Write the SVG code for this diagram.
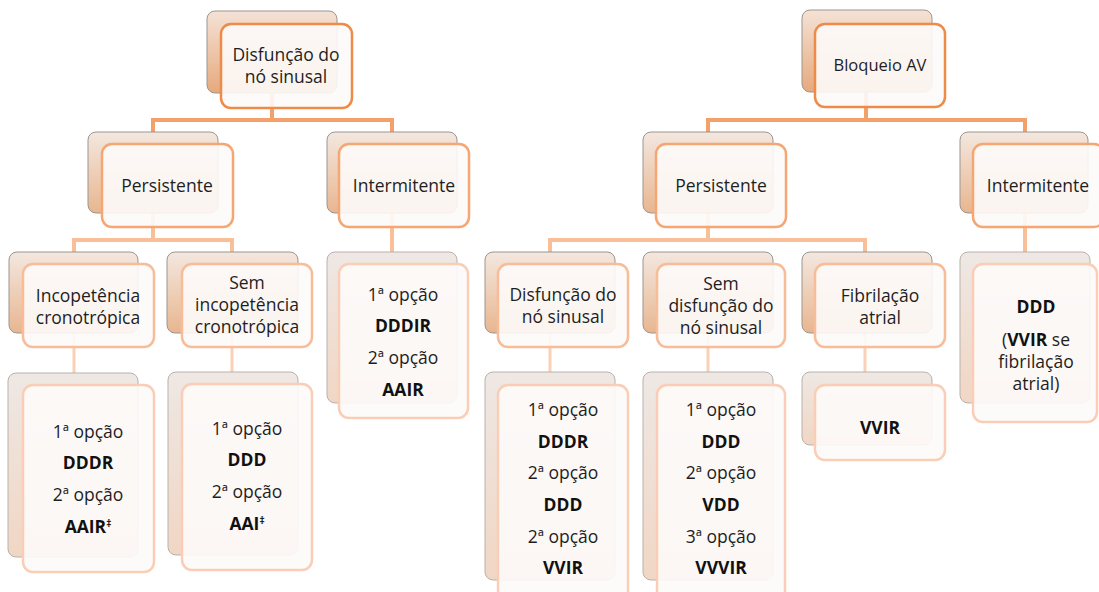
<svg xmlns="http://www.w3.org/2000/svg" width="1099" height="592" viewBox="0 0 1099 592">
<defs>
<linearGradient id="gTop" x1="0" y1="0" x2="0" y2="1"><stop offset="0" stop-color="#F4E2D6"/><stop offset="1" stop-color="#E6A97D"/></linearGradient>
<linearGradient id="gMid" x1="0" y1="0" x2="0" y2="1"><stop offset="0" stop-color="#F3E7DF"/><stop offset="1" stop-color="#E8B690"/></linearGradient>
<linearGradient id="gLeaf" x1="0" y1="0" x2="0" y2="1"><stop offset="0" stop-color="#EEE8E4"/><stop offset="1" stop-color="#F1D6C4"/></linearGradient>
<style>
.bk{stroke:#9C9590;stroke-width:1}
.b1{fill:url(#gTop)}
.b2{fill:url(#gMid)}
.b4{fill:url(#gLeaf);stroke:#B9B1AC}
.fr{fill:#FDFBFA;fill-opacity:0.9;stroke-width:2.5}
.f1{stroke:#EE8B48}
.f2{stroke:#F5A673}
.f3{stroke:#F8BC98}
.f4{stroke:#F9CDB6}
.c{fill:none;stroke-linejoin:miter}
.c1{stroke:#F4A06A;stroke-width:4}
.c2{stroke:#F9BF98;stroke-width:4}
.c3{stroke:#FAD0B7;stroke-width:3}
text{font-family:"Open Sans","Noto Sans","DejaVu Sans",sans-serif;font-size:17.5px;fill:#1E1E1E;text-anchor:middle}
.bd{font-weight:bold;fill:#111}
.sm{font-size:16.5px}
</style>
</defs>
<g id="connectors">
<path class="c c1" d="M272 93V120M153 132V120H392V132"/>
<path class="c c1" d="M866 92V120M708 132V120H1025V132"/>
<path class="c c2" d="M153 213V240M74 252V240H232V252M392 213V252"/>
<path class="c c2" d="M708 213V240M550 252V240H865V252M1025 213V252"/>
<path class="c c3" d="M74 333V373M232 333V372M550 333V372M708 333V372M865 333V372"/>
</g>
<g id="n1">
<rect class="bk b1" x="207" y="11" width="130" height="82" rx="8"/>
<rect class="fr f1" x="221" y="24" width="131" height="84" rx="10"/>
<text x="286" y="61">Disfunção do</text><text x="286" y="83">nó sinusal</text>
</g>
<g id="n2">
<rect class="bk b2" x="88" y="132" width="130" height="81" rx="8"/>
<rect class="fr f2" x="102" y="144" width="131" height="83" rx="10"/>
<text x="167" y="192">Persistente</text>
</g>
<g id="n3">
<rect class="bk b2" x="327" y="132" width="130" height="81" rx="8"/>
<rect class="fr f2" x="339" y="144" width="130" height="83" rx="10"/>
<text x="404" y="192">Intermitente</text>
</g>
<g id="n4">
<rect class="bk b2" x="9" y="252" width="129" height="81" rx="8"/>
<rect class="fr f3" x="23" y="264" width="131" height="83" rx="10"/>
<text x="88" y="302">Incopetência</text><text x="88" y="324">cronotrópica</text>
</g>
<g id="n5">
<rect class="bk b2" x="167" y="252" width="131" height="81" rx="8"/>
<rect class="fr f3" x="182" y="264" width="130" height="83" rx="10"/>
<text x="247" y="289">Sem</text><text x="247" y="311">incopetência</text><text x="247" y="333">cronotrópica</text>
</g>
<g id="n6">
<rect class="bk b4" x="8" y="373" width="130" height="184" rx="8"/>
<rect class="fr f4" x="23" y="385" width="131" height="187" rx="10"/>
<text x="88" y="438">1ª opção</text><text class="bd" x="88" y="469">DDDR</text>
<text x="88" y="501">2ª opção</text><text class="bd" x="88" y="533">AAIR<tspan font-size="10" dy="-6">‡</tspan></text>
</g>
<g id="n7">
<rect class="bk b4" x="168" y="372" width="130" height="183" rx="8"/>
<rect class="fr f4" x="182" y="384" width="130" height="186" rx="10"/>
<text x="247" y="435">1ª opção</text><text class="bd" x="247" y="466">DDD</text>
<text x="247" y="498">2ª opção</text><text class="bd" x="247" y="530">AAI<tspan font-size="10" dy="-6">‡</tspan></text>
</g>
<g id="n8">
<rect class="bk b4" x="327" y="252" width="130" height="151" rx="8"/>
<rect class="fr f4" x="339" y="264" width="129" height="154" rx="10"/>
<text x="403" y="301">1ª opção</text><text class="bd" x="403" y="332">DDDIR</text>
<text x="403" y="364">2ª opção</text><text class="bd" x="403" y="396">AAIR</text>
</g>
<g id="n9">
<rect class="bk b1" x="802" y="10" width="130" height="82" rx="8"/>
<rect class="fr f1" x="815" y="24" width="130" height="83" rx="10"/>
<text class="sm" x="880" y="71">Bloqueio AV</text>
</g>
<g id="n10">
<rect class="bk b2" x="643" y="132" width="130" height="81" rx="8"/>
<rect class="fr f2" x="656" y="144" width="130" height="83" rx="10"/>
<text x="721" y="192">Persistente</text>
</g>
<g id="n11">
<rect class="bk b2" x="960" y="132" width="128" height="81" rx="8"/>
<rect class="fr f2" x="973" y="144" width="131" height="83" rx="10"/>
<text x="1038" y="192">Intermitente</text>
</g>
<g id="n12">
<rect class="bk b2" x="485" y="252" width="130" height="81" rx="8"/>
<rect class="fr f3" x="498" y="264" width="130" height="83" rx="10"/>
<text x="563" y="301">Disfunção do</text><text x="563" y="323">nó sinusal</text>
</g>
<g id="n13">
<rect class="bk b2" x="643" y="252" width="130" height="81" rx="8"/>
<rect class="fr f3" x="657" y="264" width="128" height="83" rx="10"/>
<text x="721" y="290">Sem</text><text x="721" y="312">disfunção do</text><text x="721" y="334">nó sinusal</text>
</g>
<g id="n14">
<rect class="bk b2" x="802" y="252" width="130" height="81" rx="8"/>
<rect class="fr f3" x="815" y="264" width="130" height="83" rx="10"/>
<text x="880" y="302">Fibrilação</text><text x="880" y="324">atrial</text>
</g>
<g id="n15">
<rect class="bk b4" x="485" y="372" width="130" height="208" rx="8"/>
<rect class="fr f4" x="498" y="385" width="130" height="215" rx="10"/>
<text x="563" y="416">1ª opção</text><text class="bd" x="563" y="448">DDDR</text>
<text x="563" y="479">2ª opção</text><text class="bd" x="563" y="511">DDD</text>
<text x="563" y="543">2ª opção</text><text class="bd" x="563" y="574">VVIR</text>
</g>
<g id="n16">
<rect class="bk b4" x="643" y="372" width="130" height="208" rx="8"/>
<rect class="fr f4" x="657" y="385" width="128" height="215" rx="10"/>
<text x="721" y="416">1ª opção</text><text class="bd" x="721" y="448">DDD</text>
<text x="721" y="479">2ª opção</text><text class="bd" x="721" y="511">VDD</text>
<text x="721" y="543">3ª opção</text><text class="bd" x="721" y="574">VVVIR</text>
</g>
<g id="n17">
<rect class="bk b4" x="802" y="372" width="130" height="73" rx="8"/>
<rect class="fr f4" x="815" y="385" width="130" height="75" rx="10"/>
<text class="bd" x="880" y="434">VVIR</text>
</g>
<g id="n18">
<rect class="bk b4" x="960" y="252" width="130" height="151" rx="8"/>
<rect class="fr f4" x="973" y="264" width="124" height="158" rx="10"/>
<text class="bd" x="1036" y="313">DDD</text>
<text x="1036" y="346">(<tspan class="bd">VVIR</tspan> se</text>
<text x="1036" y="368">fibrilação</text><text x="1036" y="390">atrial)</text>
</g>
</svg>
